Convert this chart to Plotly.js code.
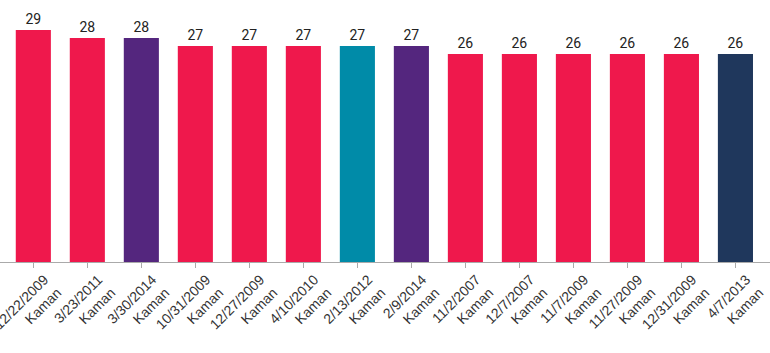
<!DOCTYPE html>
<html>
<head>
<meta charset="utf-8">
<script src="https://cdn.plot.ly/plotly-3.0.1.min.js"></script>
<style>html,body{margin:0;padding:0;background:#fff;}#chart{width:770px;height:353px;}</style>
</head>
<body>
<div id="chart"></div>
<script>
var dates = ["12/22/2009","3/23/2011","3/30/2014","10/31/2009","12/27/2009","4/10/2010","2/13/2012","2/9/2014","11/2/2007","12/7/2007","11/7/2009","11/27/2009","12/31/2009","4/7/2013"];
var names = ["Kaman","Kaman","Kaman","Kaman","Kaman","Kaman","Kaman","Kaman","Kaman","Kaman","Kaman","Kaman","Kaman","Kaman"];
var values = [29,28,28,27,27,27,27,27,26,26,26,26,26,26];
var colors = ["#ef184c","#ef184c","#54267e","#ef184c","#ef184c","#ef184c","#008ba8","#54267e","#ef184c","#ef184c","#ef184c","#ef184c","#ef184c","#1f375c"];

var labels = dates.map(function(d,i){ return d + "<br>" + names[i]; });
var idx = dates.map(function(d,i){ return i; });

var trace = {
  type: "bar",
  x: idx,
  y: values,
  text: values.map(String),
  textposition: "outside",
  cliponaxis: false,
  textfont: {family: "Roboto", size: 14, color: "#222", weight: 400},
  marker: {color: colors},
  width: 0.65,
  hoverinfo: "none"
};

var layout = {
  width: 770, height: 353,
  margin: {l: 0, r: 0, t: 0, b: 91},
  paper_bgcolor: "#fff", plot_bgcolor: "#fff",
  showlegend: false,
  xaxis: {
    range: [-0.617, 13.64],
    tickmode: "array",
    tickvals: idx,
    ticktext: labels,
    tickangle: -45,
    ticks: "outside",
    ticklen: 5,
    tickcolor: "#aaa",
    ticklabeloverflow: "allow",
    ticklabelshift: 11,
    ticklabelstandoff: -2,
    showline: true,
    linecolor: "#aaa",
    linewidth: 1,
    showgrid: false,
    zeroline: false,
    tickfont: {family: "Arial", size: 14, color: "#333"}
  },
  yaxis: {
    range: [0, 32.75],
    visible: false,
    showgrid: false,
    zeroline: false
  },
  shapes: [{type: "line", xref: "paper", yref: "y", x0: 0.001, x1: 0.001, y0: 0, y1: -0.625, line: {color: "#aaa", width: 1}}]
};

Plotly.newPlot("chart", [trace], layout, {staticPlot: true, displayModeBar: false});
</script>
</body>
</html>
